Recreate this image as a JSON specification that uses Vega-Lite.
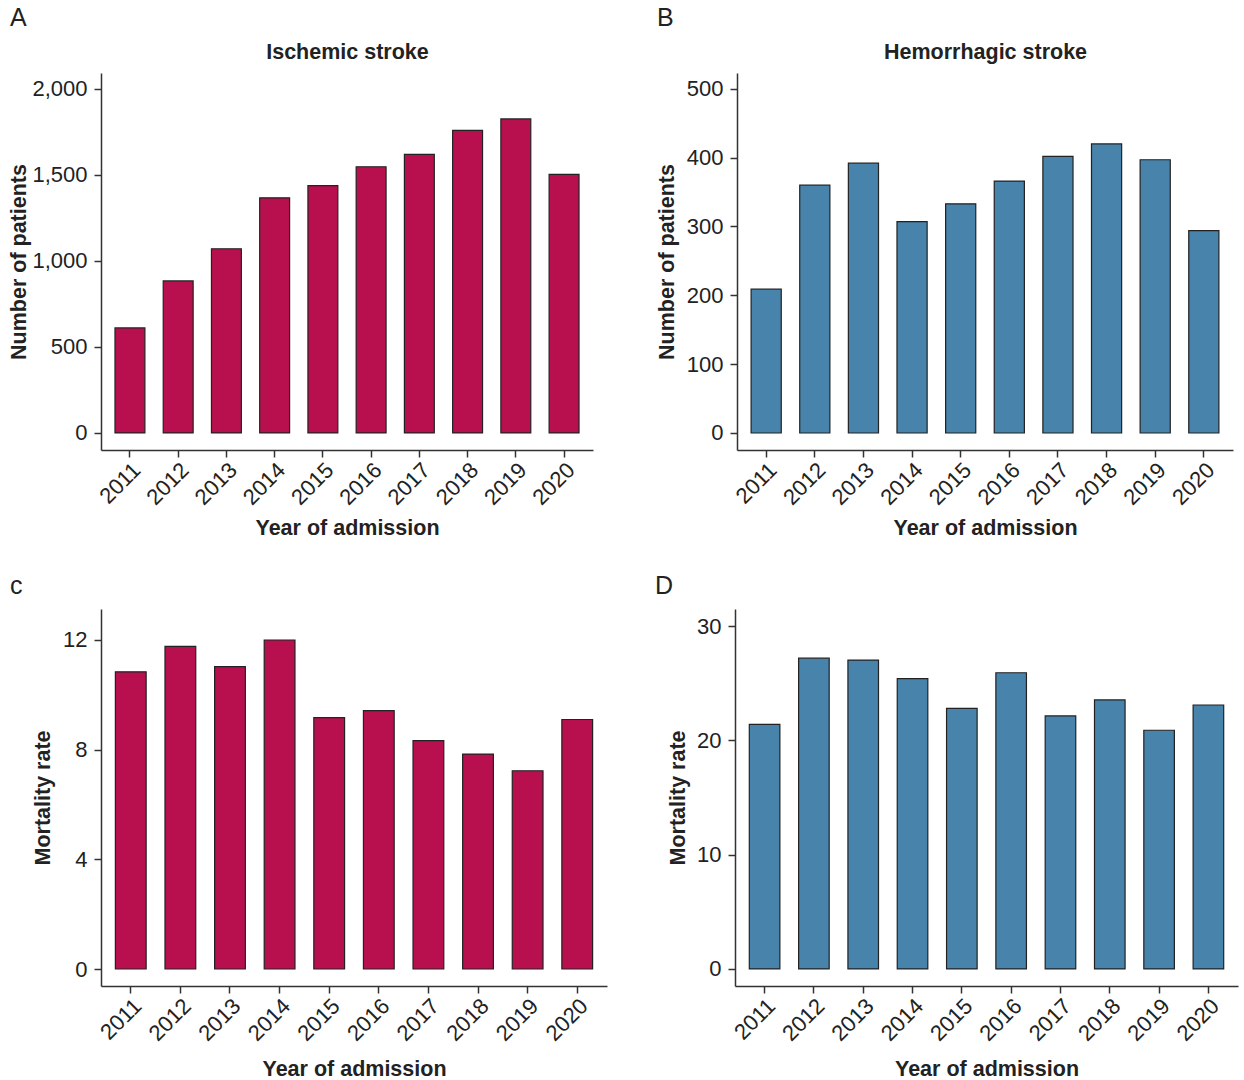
{
  "$schema": "https://vega.github.io/schema/vega-lite/v6.json",
  "background": "white",
  "padding": {"left": 8, "top": 6, "right": 4, "bottom": 4},
  "datasets": {
    "ischemic": [
      {"year": "2011", "patients": 611, "mortality": 10.84},
      {"year": "2012", "patients": 884, "mortality": 11.77},
      {"year": "2013", "patients": 1071, "mortality": 11.03},
      {"year": "2014", "patients": 1367, "mortality": 12.0},
      {"year": "2015", "patients": 1438, "mortality": 9.17},
      {"year": "2016", "patients": 1548, "mortality": 9.42},
      {"year": "2017", "patients": 1620, "mortality": 8.33},
      {"year": "2018", "patients": 1759, "mortality": 7.84},
      {"year": "2019", "patients": 1826, "mortality": 7.23},
      {"year": "2020", "patients": 1504, "mortality": 9.1}
    ],
    "hemorrhagic": [
      {"year": "2011", "patients": 209, "mortality": 21.41},
      {"year": "2012", "patients": 360, "mortality": 27.2},
      {"year": "2013", "patients": 392, "mortality": 27.03},
      {"year": "2014", "patients": 307, "mortality": 25.4},
      {"year": "2015", "patients": 333, "mortality": 22.81},
      {"year": "2016", "patients": 366, "mortality": 25.92},
      {"year": "2017", "patients": 402, "mortality": 22.14},
      {"year": "2018", "patients": 420, "mortality": 23.54},
      {"year": "2019", "patients": 397, "mortality": 20.89},
      {"year": "2020", "patients": 294, "mortality": 23.1}
    ]
  },
  "vconcat": [
    {
      "hconcat": [
        {
          "title": {"text": "A", "anchor": "start", "frame": "group", "dx": -91, "offset": 10},
          "width": 492,
          "height": 377,
          "data": {"name": "ischemic"},
          "layer": [
            {
              "mark": {"type": "bar", "color": "#B8104E", "stroke": "#222222", "strokeWidth": 1.2},
              "encoding": {
                "x": {"field": "year", "type": "ordinal", "scale": {"paddingInner": 0.38, "paddingOuter": 0.29}, "axis": {"title": "Year of admission", "labelAngle": -45, "titlePadding": 9}},
                "y": {"field": "patients", "type": "quantitative", "scale": {"domain": [-99, 2093], "nice": false, "zero": false}, "axis": {"values": [0, 500, 1000, 1500, 2000], "format": ",d", "title": "Number of patients", "titlePadding": 1}}
              }
            },
            {
              "mark": {"type": "tick", "opacity": 0},
              "encoding": {
                "x": {"field": "year", "type": "ordinal", "axis": {"orient": "top", "title": "Ischemic stroke", "labels": false, "ticks": false, "domain": false, "titlePadding": 10}}
              }
            }
          ],
          "resolve": {"axis": {"x": "independent"}}
        },
        {
          "title": {"text": "B", "anchor": "start", "frame": "group", "dx": -80, "offset": 10},
          "width": 496,
          "height": 377,
          "data": {"name": "hemorrhagic"},
          "layer": [
            {
              "mark": {"type": "bar", "color": "#4783AA", "stroke": "#222222", "strokeWidth": 1.2},
              "encoding": {
                "x": {"field": "year", "type": "ordinal", "scale": {"paddingInner": 0.38, "paddingOuter": 0.29}, "axis": {"title": "Year of admission", "labelAngle": -45, "titlePadding": 9}},
                "y": {"field": "patients", "type": "quantitative", "scale": {"domain": [-24.7, 523], "nice": false, "zero": false}, "axis": {"values": [0, 100, 200, 300, 400, 500], "title": "Number of patients", "titlePadding": 8}}
              }
            },
            {
              "mark": {"type": "tick", "opacity": 0},
              "encoding": {
                "x": {"field": "year", "type": "ordinal", "axis": {"orient": "top", "title": "Hemorrhagic stroke", "labels": false, "ticks": false, "domain": false, "titlePadding": 10}}
              }
            }
          ],
          "resolve": {"axis": {"x": "independent"}}
        }
      ],
      "spacing": 63
    },
    {
      "hconcat": [
        {
          "title": {"text": "c", "anchor": "start", "frame": "group", "dx": -91, "offset": 10},
          "width": 506,
          "height": 377,
          "data": {"name": "ischemic"},
          "mark": {"type": "bar", "color": "#B8104E", "stroke": "#222222", "strokeWidth": 1.2},
          "encoding": {
            "x": {"field": "year", "type": "ordinal", "scale": {"paddingInner": 0.38, "paddingOuter": 0.29}, "axis": {"title": "Year of admission", "labelAngle": -45, "titlePadding": 14}},
            "y": {"field": "mortality", "type": "quantitative", "scale": {"domain": [-0.62, 13.13], "nice": false, "zero": false}, "axis": {"values": [0, 4, 8, 12], "title": "Mortality rate", "titlePadding": 8}}
          }
        },
        {
          "title": {"text": "D", "anchor": "start", "frame": "group", "dx": -80, "offset": 10},
          "width": 503,
          "height": 377,
          "data": {"name": "hemorrhagic"},
          "mark": {"type": "bar", "color": "#4783AA", "stroke": "#222222", "strokeWidth": 1.2},
          "encoding": {
            "x": {"field": "year", "type": "ordinal", "scale": {"paddingInner": 0.38, "paddingOuter": 0.29}, "axis": {"title": "Year of admission", "labelAngle": -45, "titlePadding": 14}},
            "y": {"field": "mortality", "type": "quantitative", "scale": {"domain": [-1.49, 31.5], "nice": false, "zero": false}, "axis": {"values": [0, 10, 20, 30], "title": "Mortality rate", "titlePadding": 7}}
          }
        }
      ],
      "spacing": 48
    }
  ],
  "spacing": 35,
  "config": {
    "font": "Liberation Sans",
    "view": {"stroke": null},
    "axis": {
      "grid": false,
      "domainColor": "#333333",
      "domainWidth": 1.5,
      "tickColor": "#333333",
      "tickWidth": 1.5,
      "tickSize": 7,
      "labelFontSize": 22,
      "labelColor": "#222222",
      "labelFont": "Liberation Sans",
      "titleFontSize": 21.5,
      "titleFontWeight": "bold",
      "titleColor": "#222222",
      "titleFont": "Liberation Sans"
    },
    "axisY": {"labelPadding": 7},
    "title": {"fontSize": 25, "fontWeight": "normal", "color": "#222222", "font": "Liberation Sans"}
  }
}
